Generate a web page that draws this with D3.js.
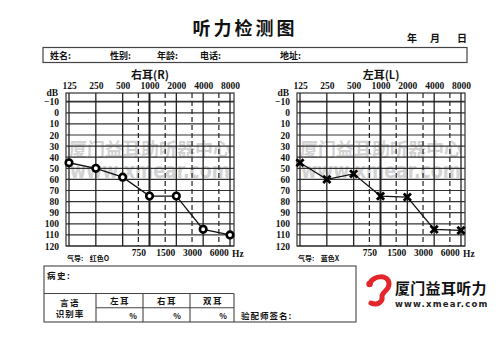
<!DOCTYPE html>
<html><head><meta charset="utf-8">
<script src="https://cdn.jsdelivr.net/npm/d3@7"></script>
<style>
body{margin:0;background:#fff}
svg{display:block}
.num{font-family:"Liberation Serif","DejaVu Serif",serif;font-weight:700;fill:#111}
.cjk{font-family:"Noto Sans CJK SC","Noto Sans",sans-serif;font-weight:700;fill:#111}
</style>
</head><body>
<script>
// Audiogram frequencies (Hz) and hearing levels (dB HL)
const freqMain = [125, 250, 500, 1000, 2000, 4000, 8000];
const freqHalf = [750, 1500, 3000, 6000];
const dbTicks = [-10, 0, 10, 20, 30, 40, 50, 60, 70, 80, 90, 100, 110, 120];
const rightEarDb = [45, 50, 58, 75, 75, 105, 110];
const leftEarDb = [45, 60, 55, 75, 76, 105, 106];
const infoFields = ["姓名:", "性别:", "年龄:", "电话:", "地址:"];
const tableHeads = ["左耳", "右耳", "双耳"];

const W = 500, H = 345;
const svg = d3.select("body").append("svg").attr("width", W).attr("height", H);

// ---- page header ----
svg.append("text").attr("class", "cjk").attr("x", 245).attr("y", 35)
  .attr("text-anchor", "middle").attr("font-size", 18).attr("letter-spacing", 3)
  .text("听力检测图");
[["年", 412], ["月", 435], ["日", 462]].forEach(([t, x]) =>
  svg.append("text").attr("class", "cjk").attr("x", x).attr("y", 42)
    .attr("text-anchor", "middle").attr("font-size", 10).text(t));

svg.append("rect").attr("x", 43).attr("y", 47.5).attr("width", 424).attr("height", 15)
  .attr("fill", "none").attr("stroke", "#444").attr("stroke-width", 1.2);
const infoX = [50, 110, 157, 200, 280];
infoFields.forEach((t, i) =>
  svg.append("text").attr("class", "cjk").attr("x", infoX[i]).attr("y", 58.5)
    .attr("font-size", 9).text(t));

// ---- one audiogram panel ----
function drawPanel(ox, title, values, marker, legend) {
  const g = svg.append("g");
  const x = d3.scaleLog().domain([125, 8000]).range([69 + ox, 230 + ox]);
  const y = d3.scaleLinear().domain([-10, 120]).range([101.7, 246]);
  const left = 66 + ox, right = 234 + ox, top = 93, bottom = y(120);

  // watermark, fitted inside the grid frame
  g.append("text").attr("x", left + 3).attr("y", 156)
    .attr("textLength", right - left - 6).attr("lengthAdjust", "spacingAndGlyphs")
    .attr("font-size", 18.5)
    .attr("font-family", "'Noto Sans CJK SC',sans-serif").attr("font-weight", 700)
    .attr("fill", "#c4c4c4").attr("opacity", 0.75).text("厦门益耳助听器中心");
  g.append("text").attr("x", left + 4).attr("y", 178)
    .attr("textLength", right - left - 8).attr("lengthAdjust", "spacingAndGlyphs")
    .attr("font-size", 21)
    .attr("font-family", "'DejaVu Sans',sans-serif").attr("font-weight", 700)
    .attr("fill", "#c4c4c4").attr("opacity", 0.75).text("www.xmear.com");

  // frame
  g.append("rect").attr("x", left).attr("y", top).attr("width", right - left)
    .attr("height", bottom - top).attr("fill", "none").attr("stroke", "#333").attr("stroke-width", 1.2);

  // horizontal grid
  g.selectAll(".h").data(dbTicks).join("line")
    .attr("x1", left).attr("x2", right).attr("y1", d => y(d)).attr("y2", d => y(d))
    .attr("stroke", "#333").attr("stroke-width", d => d === -10 ? 1.8 : 1.2);
  // octave lines
  g.selectAll(".v").data(freqMain).join("line")
    .attr("x1", d => x(d)).attr("x2", d => x(d)).attr("y1", top).attr("y2", bottom)
    .attr("stroke", "#222").attr("stroke-width", d => d === 1000 ? 2 : 1.3);
  // half-octave dashed lines
  g.selectAll(".vh").data(freqHalf).join("line")
    .attr("x1", d => x(d)).attr("x2", d => x(d)).attr("y1", top).attr("y2", bottom)
    .attr("stroke", "#222").attr("stroke-width", 1.2).attr("stroke-dasharray", "5,3");

  // axes
  const ax1 = g.append("g").attr("transform", `translate(0,${top})`)
    .call(d3.axisTop(x).tickValues(freqMain).tickFormat(d3.format("d")).tickSize(0).tickPadding(4.5));
  const ax2 = g.append("g").attr("transform", `translate(0,${bottom})`)
    .call(d3.axisBottom(x).tickValues(freqHalf).tickFormat(d3.format("d")).tickSize(0).tickPadding(3.5));
  const ax3 = g.append("g").attr("transform", `translate(${left},0)`)
    .call(d3.axisLeft(y).tickValues(dbTicks).tickSize(0).tickPadding(7));
  [ax1, ax2, ax3].forEach(a => {
    a.select(".domain").remove();
    a.selectAll("text").attr("class", "num").attr("font-size", 9.5).attr("fill", "#111");
  });
  g.append("text").attr("class", "num").attr("x", 232 + ox).attr("y", 256.5)
    .attr("font-size", 9.5).text("Hz");
  g.append("text").attr("class", "num").attr("x", left - 8).attr("y", 95.5)
    .attr("text-anchor", "end").attr("font-size", 9.5).text("dB");

  // panel title and legend
  g.append("text").attr("class", "cjk").attr("x", 150 + ox).attr("y", 79)
    .attr("text-anchor", "middle").attr("font-size", 11).text(title);
  g.append("text").attr("class", "cjk").attr("x", 67 + ox).attr("y", 261)
    .attr("font-size", 7).attr("xml:space", "preserve").text(legend);

  // threshold curve
  const pts = freqMain.map((f, i) => [x(f), y(values[i])]);
  g.append("path").attr("d", d3.line()(pts)).attr("fill", "none")
    .attr("stroke", "#111").attr("stroke-width", 1.3);
  if (marker === "O") {
    g.selectAll(".m").data(pts).join("circle")
      .attr("cx", d => d[0]).attr("cy", d => d[1]).attr("r", 3.3)
      .attr("fill", "#fff").attr("stroke", "#000").attr("stroke-width", 2.6);
  } else {
    const s = 3.6;
    g.selectAll(".m").data(pts).join("path")
      .attr("d", d => `M${d[0]-s},${d[1]-s}L${d[0]+s},${d[1]+s}M${d[0]-s},${d[1]+s}L${d[0]+s},${d[1]-s}`)
      .attr("stroke", "#000").attr("stroke-width", 2.8).attr("fill", "none");
  }
}

drawPanel(0, "右耳(R)", rightEarDb, "O", "气导:    红色O");
drawPanel(231, "左耳(L)", leftEarDb, "X", "气导:    蓝色X");

// ---- history / speech recognition table ----
const tb = svg.append("g").attr("stroke", "#444").attr("stroke-width", 1.1).attr("fill", "none");
tb.append("rect").attr("x", 44).attr("y", 266).attr("width", 312).attr("height", 56);
tb.append("line").attr("x1", 44).attr("x2", 234).attr("y1", 293.5).attr("y2", 293.5);
tb.append("line").attr("x1", 96).attr("x2", 234).attr("y1", 307.7).attr("y2", 307.7);
[96, 143, 190, 234].forEach(xv =>
  tb.append("line").attr("x1", xv).attr("x2", xv).attr("y1", 293.5).attr("y2", 322));

const t = svg.append("g");
t.append("text").attr("class", "cjk").attr("x", 47).attr("y", 279).attr("font-size", 8.5)
  .attr("letter-spacing", 1.5).text("病史:");
t.append("text").attr("class", "cjk").attr("x", 70).attr("y", 305.5).attr("font-size", 8.5)
  .attr("text-anchor", "middle").attr("letter-spacing", 1.5).text("言语");
t.append("text").attr("class", "cjk").attr("x", 70).attr("y", 316.5).attr("font-size", 8.5)
  .attr("text-anchor", "middle").attr("letter-spacing", 1).text("识别率");
const colC = [120, 167, 213], colR = [137, 181, 227];
tableHeads.forEach((h, i) => {
  t.append("text").attr("class", "cjk").attr("x", colC[i]).attr("y", 304).attr("font-size", 8.5)
    .attr("text-anchor", "middle").attr("letter-spacing", 1.5).text(h);
  t.append("text").attr("class", "cjk").attr("x", colR[i]).attr("y", 319).attr("font-size", 8)
    .attr("text-anchor", "end").text("%");
});
t.append("text").attr("class", "cjk").attr("x", 241).attr("y", 319).attr("font-size", 8.5)
  .attr("letter-spacing", 1).text("验配师签名:");

// ---- brand logo ----
const logo = svg.append("g");
logo.append("path")
  .attr("d", "M370,284 C371,276 389,273 389,284 C389,291 381,292 382,297 C383,302 377,306 371,303")
  .attr("fill", "none").attr("stroke", "#e3262b").attr("stroke-width", 5).attr("stroke-linecap", "round");
logo.append("circle").attr("cx", 369.5).attr("cy", 284).attr("r", 3.2).attr("fill", "#e3262b");
logo.append("text").attr("class", "cjk").attr("x", 395).attr("y", 293.5).attr("font-size", 15)
  .attr("letter-spacing", 0.3).text("厦门益耳听力");
logo.append("text").attr("x", 395).attr("y", 306.5).attr("font-size", 8.5)
  .attr("font-family", "'DejaVu Sans',sans-serif").attr("font-weight", 700).attr("fill", "#222")
  .attr("letter-spacing", 1.2).text("www.xmear.com");
</script>
</body></html>
